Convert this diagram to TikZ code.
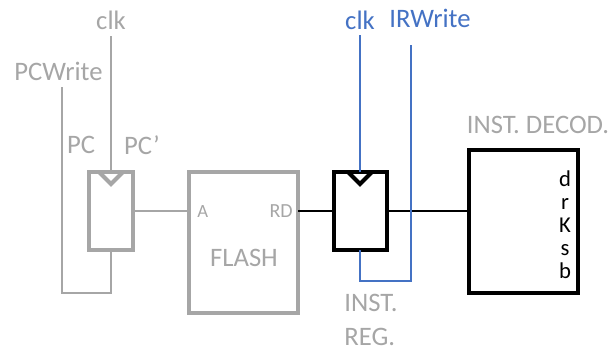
\documentclass[tikz,border=0pt]{standalone}
\usepackage{fontspec}
\setmainfont{Carlito}
\definecolor{wiregrey}{HTML}{A6A6A6}
\definecolor{wireblue}{HTML}{4472C4}
\begin{document}
\begin{tikzpicture}[x=0.75pt, y=-0.75pt]
    % Define styles
    \tikzstyle{greybox} = [draw=wiregrey, line width=3pt, inner sep=0pt, outer sep=0pt]
    \tikzstyle{blackbox} = [draw=black, line width=3pt, inner sep=0pt, outer sep=0pt]
    \tikzstyle{greytext} = [text=wiregrey, font=\fontsize{20}{26}\selectfont, inner sep=0pt]
    \tikzstyle{bluetext} = [text=wireblue, font=\fontsize{20}{26}\selectfont, inner sep=0pt]
    \tikzstyle{greywire} = [draw=wiregrey, line width=1.5pt]
    \tikzstyle{bluewire} = [draw=wireblue, line width=1.5pt]
    \tikzstyle{blackwire} = [draw=black, line width=2pt]

    \useasboundingbox (0,0) rectangle (614,351);

    % Nodes
    \node[greybox, minimum width=33pt, minimum height=58.5pt] (pc) at (111,211) {};
    \node[greybox, minimum width=81.75pt, minimum height=105.75pt] (flash) at (243.5,242.5) {};
    \node[blackbox, minimum width=39.75pt, minimum height=58.5pt] (ir) at (360,211) {};
    \node[blackbox, minimum width=81.75pt, minimum height=107.25pt] (dec) at (523.5,221.5) {};

    \node[greytext] (clkpctext) at (111,20) {clk};
    \node[greytext] (pcwtext) at (58.5,71) {PCWrite};
    \node[greytext] (pctext) at (81,145) {PC};
    \node[greytext] (pcntext) at (142,145) {PC’};
    \node[greytext, font=\fontsize{14}{16}\selectfont, anchor=west] (atext) at (197,212) {A};
    \node[greytext, font=\fontsize{15}{16}\selectfont, anchor=east] (rdtext) at (293,211) {RD};
    \node[greytext] (flashtext) at (244,258) {FLASH};
    \node[bluetext] (clkirtext) at (360,20) {clk};
    \node[bluetext] (irwtext) at (430,18) {IRWrite};
    \node[greytext, align=left, font=\fontsize{20}{25}\selectfont] (irtext) at (371,320) {INST.\\REG.};
    \node[greytext] (dectext) at (538,125) {INST. DECOD.};
    \node[inner sep=0pt, align=center, font=\fontsize{17}{17.25}\selectfont] (fields) at (565,225) {d\\r\\K\\s\\b};

    \coordinate (clkpc) at (111,36);
    \coordinate (pcw) at (62,87);
    \coordinate (pcwturn) at (62,293);
    \coordinate (clkir) at (360,35);
    \coordinate (irw) at (411,45);
    \coordinate (irwturn) at (411,281);

    % Clock marks
    \draw[draw=wiregrey, line width=3pt] ([xshift=-9pt]pc.north) -- ([yshift=-9pt]pc.north) -- ([xshift=9pt]pc.north);
    \draw[draw=black, line width=3pt] ([xshift=-9pt]ir.north) -- ([yshift=-9pt]ir.north) -- ([xshift=9pt]ir.north);

    % Wires
    \draw[greywire] (clkpc) -- (pc.north);
    \draw[greywire] (pcw) -- (pcwturn) -| (pc.south);
    \draw[greywire] (pc.east) -- (pc.east -| flash.west);
    \draw[blackwire] (pc.east -| flash.east) -- (ir.west);
    \draw[blackwire] (ir.east) -- (ir.east -| dec.west);
    \draw[bluewire] (clkir) -- (ir.north);
    \draw[bluewire] (irw) -- (irwturn) -| (ir.south);
\end{tikzpicture}
\end{document}
